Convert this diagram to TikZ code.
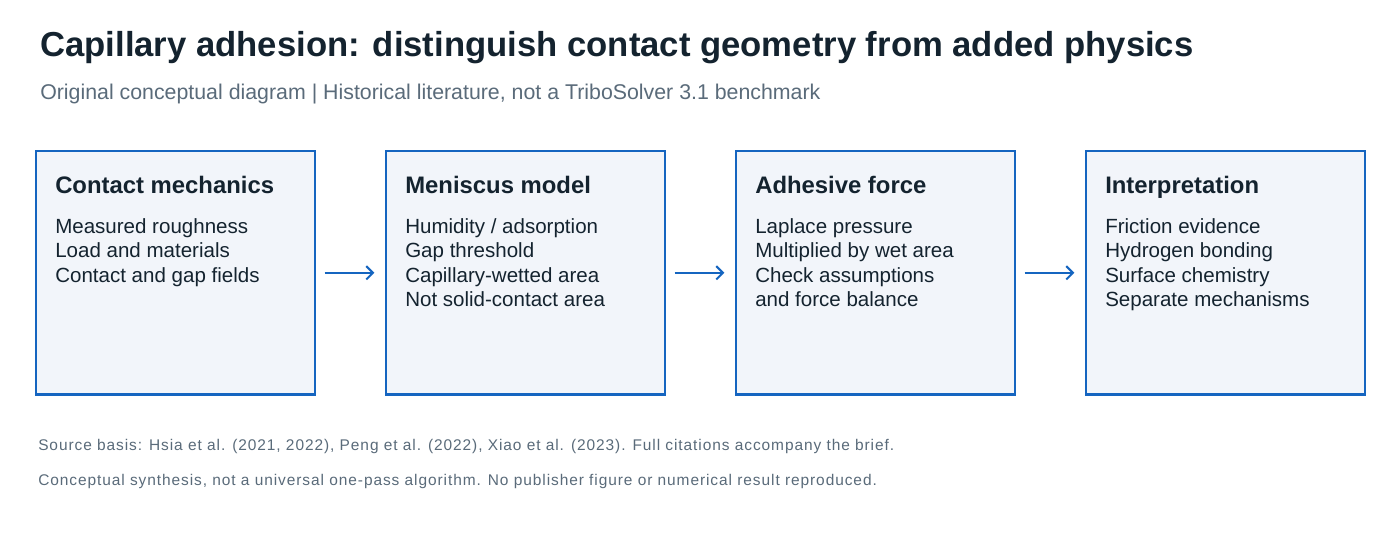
\documentclass[tikz,border=0pt]{standalone}
\usepackage{fontspec}
\setmainfont{Liberation Sans}
\usetikzlibrary{arrows.meta}
\definecolor{boxblue}{HTML}{1565C0}
\definecolor{boxfill}{HTML}{F2F5FA}
\definecolor{titlec}{HTML}{14232F}
\definecolor{subc}{HTML}{5A6B7A}
\begin{document}
\begin{tikzpicture}[x=0.75pt,y=-0.75pt,
  box/.style={draw=boxblue,fill=boxfill,line width=1.7pt,minimum width=209pt,minimum height=182.5pt,anchor=north west,inner sep=0pt},
  head/.style={anchor=base west,font=\fontsize{17.9}{20}\selectfont\bfseries,text=titlec,inner sep=0pt},
  body/.style={anchor=north west,font=\fontsize{15.4}{18.4}\selectfont,text=titlec,inner sep=0pt,align=left},
  arr/.style={-{Straight Barb[length=5pt,width=10pt]},draw=boxblue,line width=1.5pt},
  foot/.style={anchor=base west,font=\fontsize{11.6}{13}\selectfont\addfontfeatures{LetterSpace=6},text=subc,inner sep=0pt}]
\useasboundingbox[fill=white] (0,0) rectangle (1400,560);
\node[anchor=base west,inner sep=0pt,font=\fontsize{26}{30}\selectfont\bfseries,text=titlec] (title) at (40,57) {Capillary adhesion: distinguish contact geometry from added physics};
\node[anchor=base west,inner sep=0pt,font=\fontsize{16}{18}\selectfont,text=subc] (sub) at (40,99) {Original conceptual diagram | Historical literature, not a TriboSolver 3.1 benchmark};
\foreach \i/\x/\h/\t in {1/35/Contact mechanics/{Measured roughness\\Load and materials\\Contact and gap fields},
  2/385/Meniscus model/{Humidity / adsorption\\Gap threshold\\Capillary-wetted area\\Not solid-contact area},
  3/735/Adhesive force/{Laplace pressure\\Multiplied by wet area\\Check assumptions\\and force balance},
  4/1085/Interpretation/{Friction evidence\\Hydrogen bonding\\Surface chemistry\\Separate mechanisms}}{
  \node[box] (b\i) at (\x,150) {};
  \node[head] (h\i) at (\x+20,193) {\h};
  \node[body] (t\i) at (\x+20,218) {\t};
}
\foreach \a/\b in {1/2,2/3,3/4}{
  \coordinate (s\a) at ([xshift=6.5pt]b\a.east);
  \coordinate (e\a) at ([xshift=-8pt]b\b.west);
  \draw[arr] (s\a) -- (e\a);
}
\node[foot] (f1) at (38,450) {Source basis: Hsia et al. (2021, 2022), Peng et al. (2022), Xiao et al. (2023). Full citations accompany the brief.};
\node[foot] (f2) at (38,485) {Conceptual synthesis, not a universal one-pass algorithm. No publisher figure or numerical result reproduced.};
\end{tikzpicture}
\end{document}
